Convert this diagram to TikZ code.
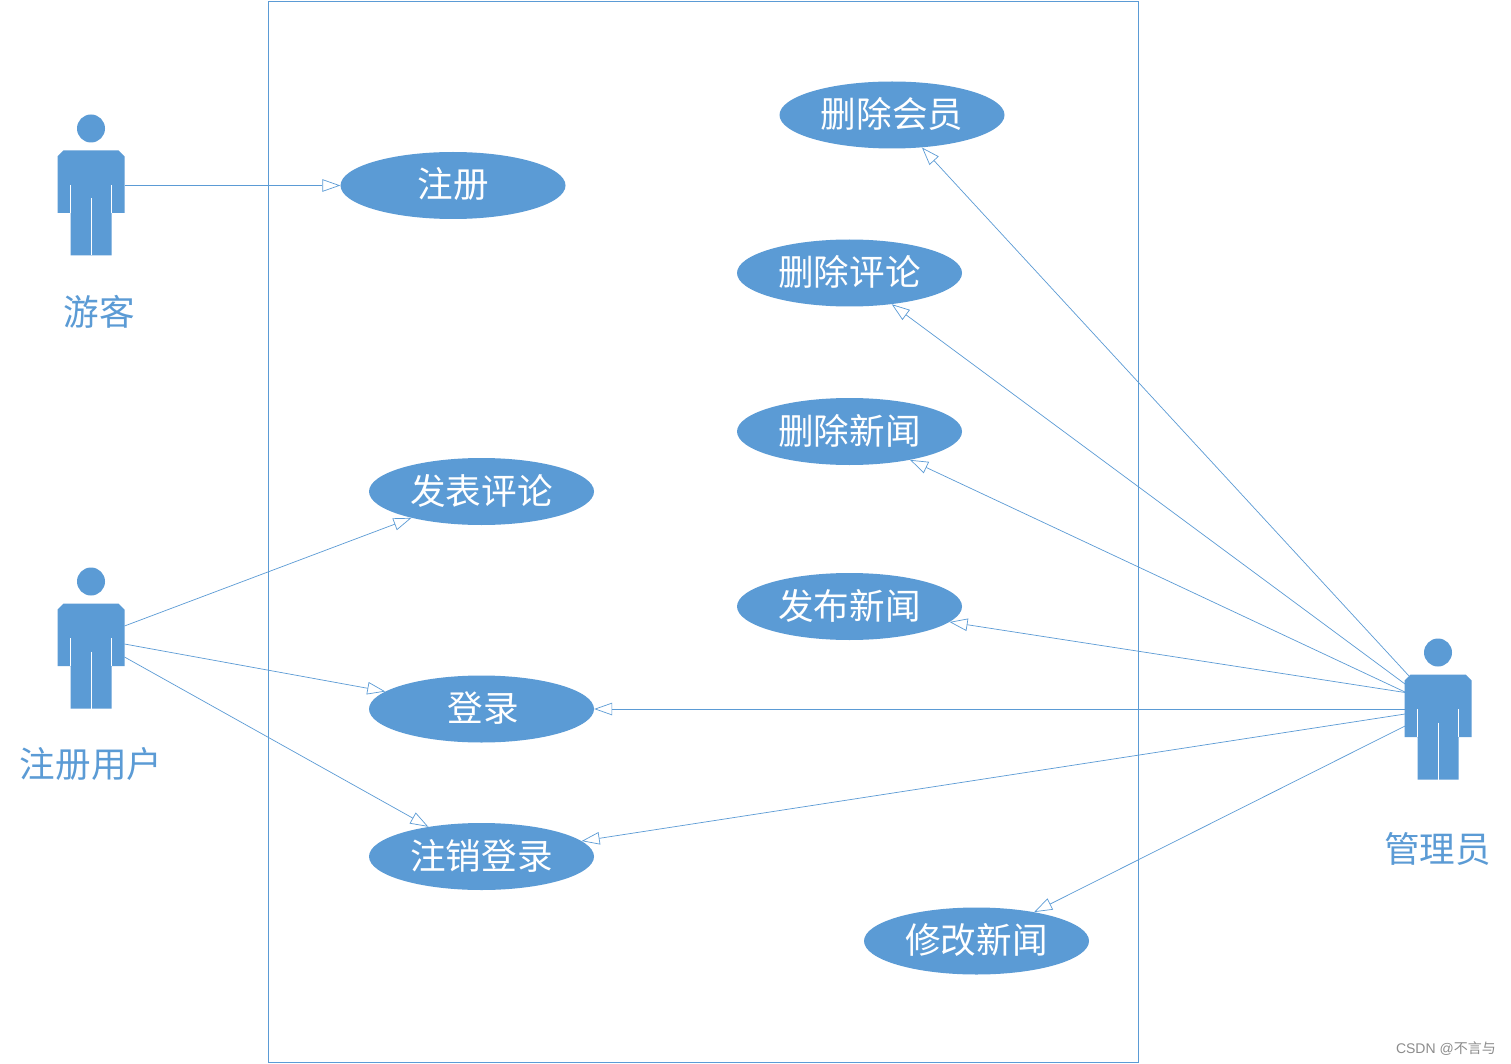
\documentclass[tikz,border=0pt]{standalone}
\usepackage{fontspec}
\usetikzlibrary{arrows.meta,shapes.geometric}
\setmainfont{Noto Sans CJK SC}[Scale=1.0]
\setsansfont{Liberation Sans}
\definecolor{ub}{HTML}{5B9BD5}
\tikzset{
  x=1pt,y=-1pt,
  usecase/.style={ellipse,fill=ub,draw=none,minimum width=225pt,minimum height=67pt,inner sep=0pt,text=white,text height=30pt,text depth=5pt,font=\fontsize{35.6}{36}\selectfont},
  actorlabel/.style={text=ub,font=\fontsize{35.6}{36}\selectfont,inner sep=0pt},
  conn/.style={draw=ub,line width=0.7pt,-{Triangle[open,fill=white,length=18pt,width=12.5pt,line width=0.7pt]}},
}
% #1 = name, #2 = x of centre, #3 = y of head centre
\newcommand{\umlactor}[3]{%
  \begin{scope}[shift={(#2,#3)}]
    \fill[ub] (0,0) circle (14);
    \fill[ub] (-27.5,22) -- (27.5,22) -- (33.5,28) -- (33.5,84.5) -- (20.5,84.5) -- (20.5,127) -- (-20.5,127) -- (-20.5,84.5) -- (-33.5,84.5) -- (-33.5,28) -- cycle;
    \draw[white,line width=0.7pt] (0,70) -- (0,127);
    \draw[white,line width=0.7pt] (-20.5,56.5) -- (-20.5,84.5);
    \draw[white,line width=0.7pt] (20.5,56.5) -- (20.5,84.5);
    \node[inner sep=0pt,minimum width=67pt,minimum height=141pt] (#1) at (0,57) {};
  \end{scope}}
\begin{document}
\begin{tikzpicture}
\useasboundingbox (0,0) rectangle (1511,1064);
\fill[white] (0,0) rectangle (1511,1064);
\node[draw=ub,line width=0.7pt,minimum width=869.5pt,minimum height=1061pt,inner sep=0pt] (sys) at (703.25,531.5) {};

\umlactor{guest}{91}{128.5}
\umlactor{member}{91}{581.5}
\umlactor{admin}{1438}{652.5}

\node[actorlabel] (lguest) at (99.5,312) {游客};
\node[actorlabel] (lmember) at (91,763.5) {注册用户};
\node[actorlabel] (ladmin) at (1437.5,849) {管理员};

\node[usecase] (reg) at (453,185.5) {注册};
\node[usecase] (post) at (481.5,491.5) {发表评论};
\node[usecase] (login) at (481.5,709) {\hspace{3pt}登录};
\node[usecase] (logout) at (481.5,856.5) {注销登录};
\node[usecase] (delm) at (892,115) {删除会员};
\node[usecase] (delc) at (849.5,273) {删除评论};
\node[usecase] (deln) at (849.5,431.5) {删除新闻};
\node[usecase] (pubn) at (849.5,606.5) {发布新闻};
\node[usecase] (modn) at (976.5,941) {修改新闻};

\coordinate (g1) at (124.5,185.5);
\coordinate (m1) at (124.5,626);
\coordinate (m2) at (124.5,644);
\coordinate (m3) at (124.5,657);
\coordinate (a1) at (1409,676);
\coordinate (a2) at (1405,684);
\coordinate (a3) at (1405,692);
\coordinate (a4) at (1405,692.5);
\coordinate (a5) at (1405,709);
\coordinate (a6) at (1405,714);
\coordinate (a7) at (1405,726);

\draw[conn] (g1) -- (reg);
\draw[conn] (m1) -- (post);
\draw[conn] (m2) -- (login);
\draw[conn] (m3) -- (logout);
\draw[conn] (a1) -- (delm);
\draw[conn] (a2) -- (delc);
\draw[conn] (a3) -- (deln);
\draw[conn] (a4) -- (pubn);
\draw[conn] (a5) -- (login);
\draw[conn] (a6) -- (logout);
\draw[conn] (a7) -- (modn);

\node[text=black!45,inner sep=0pt,anchor=east,font=\sffamily\fontsize{14}{14}\selectfont] (wm) at (1496,1048.5) {CSDN @\fontspec{Noto Sans CJK SC}不言与};
\end{tikzpicture}
\end{document}
